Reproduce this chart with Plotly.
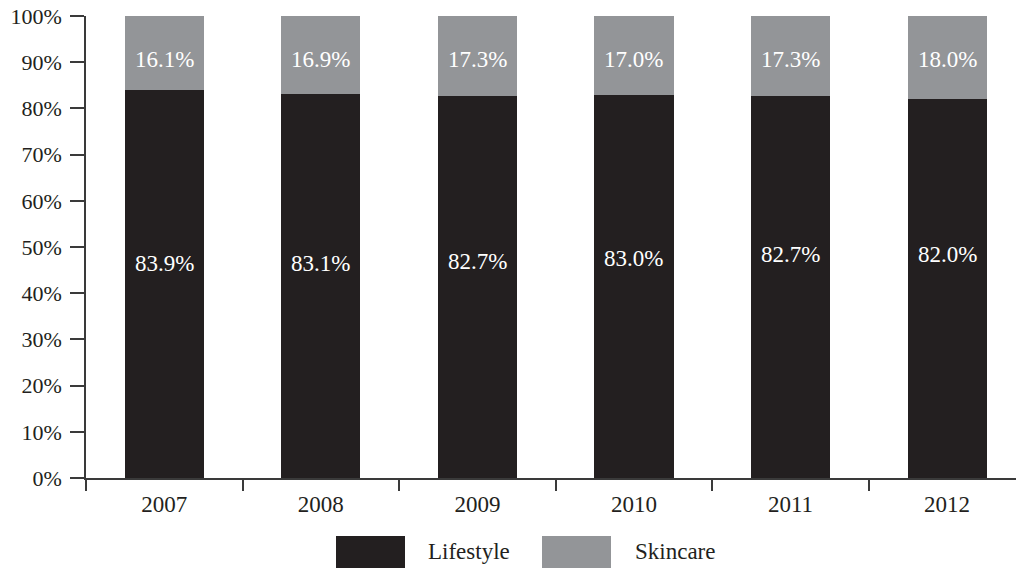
import plotly.graph_objects as go

# Share of sales by segment, 2007-2012 (percent)
years = ["2007", "2008", "2009", "2010", "2011", "2012"]
lifestyle = [83.9, 83.1, 82.7, 83.0, 82.7, 82.0]
skincare = [16.1, 16.9, 17.3, 17.0, 17.3, 18.0]
y_ticks = [0, 10, 20, 30, 40, 50, 60, 70, 80, 90, 100]
y_tick_labels = [f"{v}%" for v in y_ticks]

DARK = "#231f20"
GREY = "#939598"
AXIS = "#3a3a3a"
FONT = "Liberation Serif"

# Figure geometry (pixels)
W, H = 1016, 568
L, T, B = 86, 16, 90
plot_w = W - L
plot_h = H - T - B

# Heights (in axis units) where the value labels sit inside each bar
lifestyle_label_y = [46.5, 46.5, 46.8, 47.6, 48.3, 48.3]
skincare_label_y = [90.5] * len(years)

fig = go.Figure()
fig.add_trace(go.Bar(x=years, y=lifestyle, name="Lifestyle", marker=dict(color=DARK, line=dict(width=0)),
                     width=0.505, showlegend=False))
fig.add_trace(go.Bar(x=years, y=skincare, name="Skincare", marker=dict(color=GREY, line=dict(width=0)),
                     width=0.505, showlegend=False))

annotations = []
for i, yr in enumerate(years):
    # category position given by index so numeric-looking names are not misread
    annotations.append(dict(x=i, y=lifestyle_label_y[i], text=f"{lifestyle[i]:.1f}%", showarrow=False,
                            font=dict(family=FONT, size=23, color="white"), xref="x", yref="y"))
    annotations.append(dict(x=i, y=skincare_label_y[i], text=f"{skincare[i]:.1f}%", showarrow=False,
                            font=dict(family=FONT, size=23, color="white"), xref="x", yref="y"))


def px_x(px):
    return (px - L) / plot_w


def px_y(py):
    return (H - B - py) / plot_h


# Custom legend: wide swatches with labels below the axis
shapes = []
legend_items = [("Lifestyle", DARK, 336, 426), ("Skincare", GREY, 542, 633)]
for name, color, sx, tx in legend_items:
    shapes.append(dict(type="rect", xref="paper", yref="paper",
                       x0=px_x(sx), x1=px_x(sx + 69), y0=px_y(536), y1=px_y(575),
                       fillcolor=color, line=dict(width=0)))
    annotations.append(dict(x=px_x(tx), y=px_y(551), xref="paper", yref="paper", text=name,
                            showarrow=False, xanchor="left", yanchor="middle",
                            font=dict(family=FONT, size=23, color="#231f20")))

fig.update_layout(
    width=W, height=H,
    margin=dict(l=L, r=0, t=T, b=B),
    barmode="stack",
    bargap=0.5,
    plot_bgcolor="white", paper_bgcolor="white",
    font=dict(family=FONT, size=22, color="#231f20"),
    annotations=annotations,
    shapes=shapes,
    xaxis=dict(
        type="category",
        range=[-0.5, 5.44],
        showline=True, linecolor=AXIS, linewidth=1.5,
        ticks="outside", tickson="boundaries", ticklen=11, tickwidth=1.5, tickcolor=AXIS,
        showgrid=False, zeroline=False,
        tickfont=dict(family=FONT, size=23, color="#231f20"),
        ticklabelstandoff=5,
    ),
    yaxis=dict(
        range=[0, 100],
        tickmode="array", tickvals=y_ticks, ticktext=y_tick_labels,
        showline=True, linecolor=AXIS, linewidth=1.5,
        ticks="outside", ticklen=14, tickwidth=1.5, tickcolor=AXIS,
        showgrid=False, zeroline=False,
        tickfont=dict(family=FONT, size=22, color="#231f20"),
        ticklabelstandoff=4,
    ),
)

fig.write_html("out.html")
